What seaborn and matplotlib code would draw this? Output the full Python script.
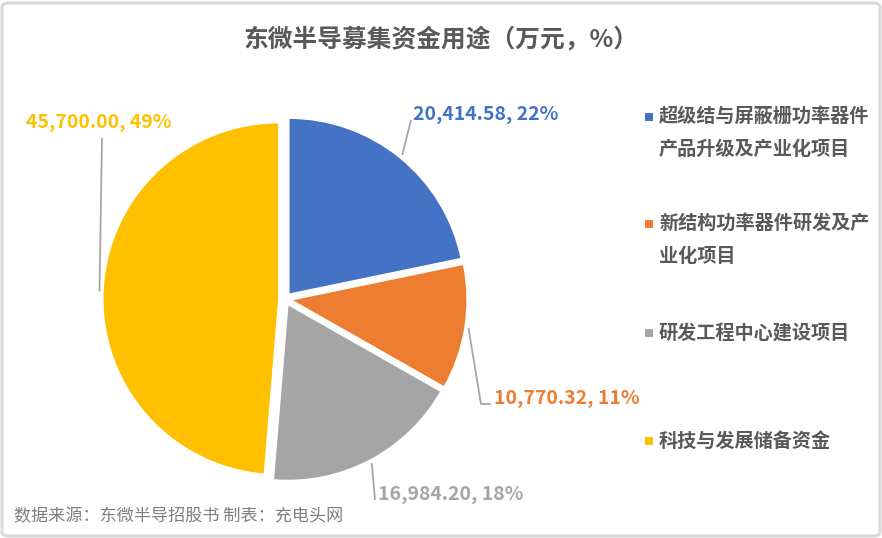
import matplotlib
matplotlib.use("Agg")
import matplotlib.pyplot as plt
import seaborn as sns
import numpy as np
from matplotlib.patches import FancyBboxPatch, Rectangle

# ---- data ----
categories = ["超级结与屏蔽栅功率器件\n产品升级及产业化项目",
              "新结构功率器件研发及产\n业化项目",
              "研发工程中心建设项目",
              "科技与发展储备资金"]
values = [20414.58, 10770.32, 16984.20, 45700.00]
colors = ["#4472C4", "#ED7D31", "#A5A5A5", "#FFC000"]
title = "东微半导募集资金用途（万元，%）"
source = "数据来源：东微半导招股书 制表：充电头网"

sns.set_theme(style="white")
plt.rcParams['font.family'] = ['Noto Sans CJK SC', 'DejaVu Sans']

W, H = 882, 538
fig = plt.figure(figsize=(W / 100, H / 100), dpi=100)
fig.patch.set_facecolor("white")

# border
fig.patches.append(FancyBboxPatch((2 / W, 2 / H), 1 - 4 / W, 1 - 5 / H,
                                  boxstyle="round,pad=0,rounding_size=0.008",
                                  transform=fig.transFigure, facecolor="none",
                                  edgecolor="#D9D9D9", linewidth=2.2))

CX, CY, R = 285, 299, 176
span = 1.2
ax = fig.add_axes([(CX - span * R) / W, (H - CY - span * R) / H,
                   2 * span * R / W, 2 * span * R / H])
wedges, _ = ax.pie(values, colors=colors, startangle=90, counterclock=False,
                   explode=[0.035] * 4,
                   wedgeprops=dict(edgecolor="white", linewidth=1))
ax.set_xlim(-span, span)
ax.set_ylim(-span, span)
ax.set_aspect("equal")
ax.axis("off")


def d(px, py):
    return ((px - CX) / R, (CY - py) / R)


total = sum(values)
labels = [f"{v:,.2f}, {round(v / total * 100):.0f}%" for v in values]

# leader path (after the wedge point) and text anchor, in pixel coords
leader_paths = [
    [(411, 120)],
    [(481, 404), (491, 404)],
    [(375, 500)],
    [(102, 138)],
]
text_pos = [((413, 114), "left"), ((494, 398), "left"),
            ((378, 495), "left"), ((99, 123), "center")]

for w, lab, col, path, (tp, ha) in zip(wedges, labels, colors, leader_paths, text_pos):
    mid = np.deg2rad((w.theta1 + w.theta2) / 2)
    cx, cy = w.center
    start = (cx + w.r * 1.02 * np.cos(mid), cy + w.r * 1.02 * np.sin(mid))
    pts = [start] + [d(*p) for p in path]
    xs, ys = zip(*pts)
    ax.plot(xs, ys, color="#A6A6A6", lw=1.3, solid_capstyle="butt", clip_on=False)
    tx, ty = d(*tp)
    ax.text(tx, ty, lab, color=col, fontsize=14, fontweight="bold",
            ha=ha, va="center", clip_on=False)

# title
fig.text(0.5, 1 - 39 / H, title, ha="center", va="center", fontsize=17.8,
         fontweight="bold", color="#595959")

# legend (manual)
first_y = [116.7, 223.5, 333, 441]
for cat, col, fy in zip(categories, colors, first_y):
    fig.patches.append(Rectangle(((645) / W, 1 - (fy + 4) / H), 8 / W, 8 / H,
                                 transform=fig.transFigure, facecolor=col,
                                 edgecolor="none"))
    for i, line in enumerate(cat.split("\n")):
        fig.text(659 / W, 1 - (fy + i * 33) / H, line, ha="left", va="center",
                 fontsize=13.8, fontweight="bold", color="#595959")

# source
fig.text(14 / W, 1 - 516 / H, source, ha="left", va="center", fontsize=12.3,
         color="#7F7F7F")

fig.savefig("out.png", dpi=100, facecolor="white")
